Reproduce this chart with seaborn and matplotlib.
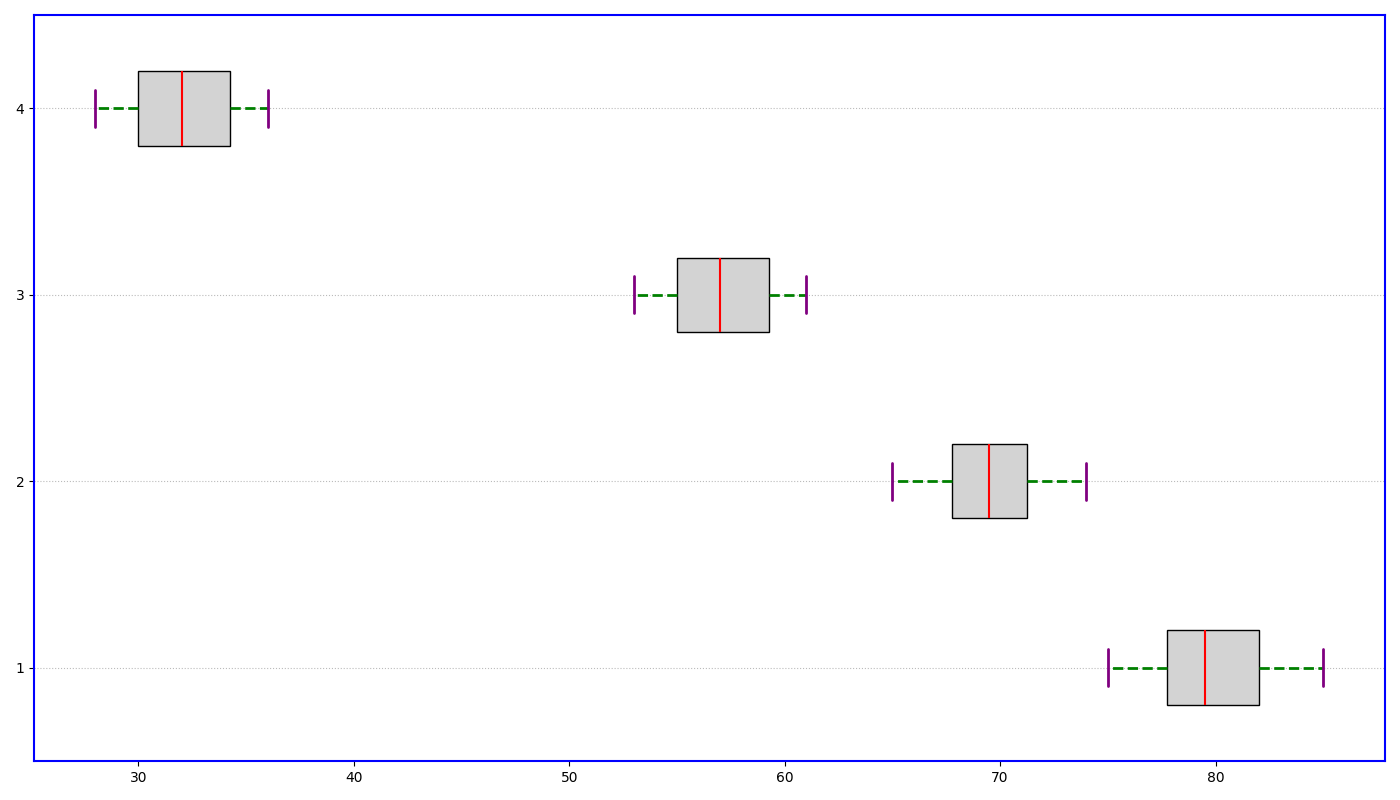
import matplotlib
matplotlib.use("Agg")
import matplotlib.pyplot as plt
import seaborn as sns
import pandas as pd

# Five-number data per group (min, q1, median, q3, max)
groups = [1, 2, 3, 4]
values_1 = [75, 77.75, 79.5, 82, 85]
values_2 = [65, 67.75, 69.5, 71.25, 74]
values_3 = [53, 55, 57, 59.25, 61]
values_4 = [28, 30, 32, 34.25, 36]

df = pd.DataFrame({
    "group": [g for g, v in zip(groups, [values_1, values_2, values_3, values_4]) for _ in v],
    "value": values_1 + values_2 + values_3 + values_4,
})

sns.set_style("white")
plt.rcParams['font.family'] = ['DejaVu Sans']
plt.rcParams['text.color'] = 'black'
plt.rcParams['xtick.color'] = 'black'
plt.rcParams['ytick.color'] = 'black'
plt.rcParams['axes.labelcolor'] = 'black'

fig, ax = plt.subplots(figsize=(14, 8), dpi=100)
fig.subplots_adjust(left=0.0243, right=0.989, top=0.981, bottom=0.049)

sns.boxplot(
    data=df, x="value", y="group", orient="h", native_scale=True,
    width=0.4, color="lightgray", saturation=1, linecolor="black",
    showfliers=False, ax=ax,
    boxprops=dict(facecolor="lightgray", edgecolor="black", linewidth=1),
    medianprops=dict(color="red", linewidth=1.5),
    whiskerprops=dict(color="green", linewidth=2, linestyle="--"),
    capprops=dict(color="purple", linewidth=2),
)

ax.set_ylim(0.5, 4.5)
ax.set_xlim(25.15, 87.85)
ax.set_yticks([1, 2, 3, 4])
ax.set_yticklabels(["1", "2", "3", "4"])
ax.set_xticks([30, 40, 50, 60, 70, 80])
ax.set_xlabel("")
ax.set_ylabel("")
ax.grid(axis="y", linestyle=":", color="#bbbbbb", linewidth=0.8)
ax.grid(axis="x", visible=False)
ax.set_axisbelow(True)
ax.tick_params(axis="both", which="both", length=3.5, width=0.8, color="black",
               labelcolor="black", labelsize=10, left=True, bottom=True)
for s in ax.spines.values():
    s.set_visible(True)
    s.set_color("blue")
    s.set_linewidth(1.5)

fig.savefig("out.png", dpi=100)
